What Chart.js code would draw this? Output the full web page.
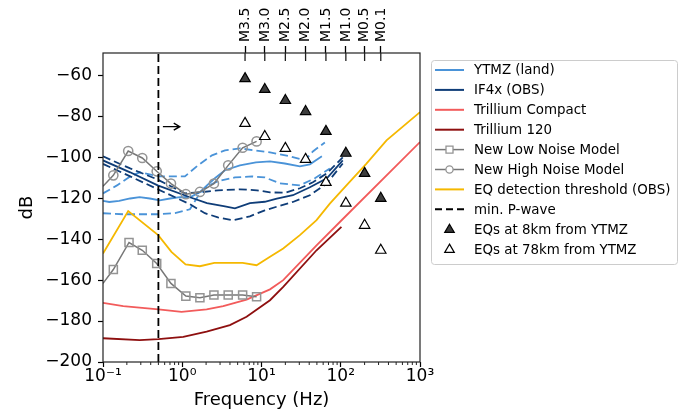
<!DOCTYPE html>
<html>
<head>
<meta charset="utf-8">
<script src="https://cdn.jsdelivr.net/npm/chart.js@4.4.1/dist/chart.umd.min.js"></script>
<style>
  html, body { margin: 0; padding: 0; background: #fff; }
</style>
</head>
<body>
<canvas id="chart" width="684" height="416"></canvas>
<script>
// axis ticks
const xTickVals = [0.1, 1, 10, 100, 1000]
const xTickLabels = ['10\u207b\u00b9', '10\u2070', '10\u00b9', '10\u00b2', '10\u00b3']
const yTickVals = [-200, -180, -160, -140, -120, -100, -80, -60]
// top axis: magnitude at corner frequency
const magFreqs = [6.2, 11, 20, 36, 65, 116, 200, 320]
const magLabels = ['M3.5', 'M3.0', 'M2.5', 'M2.0', 'M1.5', 'M1.0', 'M0.5', 'M0.1']
// earthquakes (dB at magFreqs)
const eq8km = [-61.5, -66.8, -72.2, -77.6, -87.3, -98, -107.8, -120]
const eq78km = [-83.4, -89.8, -95.6, -101, -112.2, -122.4, -133.2, -145.4]

// YTMZ (land) median + percentiles
const ytmzFreq = [0.1, 0.12, 0.16, 0.22, 0.29, 0.39, 0.52, 0.7, 0.94, 1.25, 1.67, 2.05, 2.58, 3.46, 5.34, 8.5, 12.8, 19.7, 30.5, 40.8, 57.8]
const ytmzMed = [-121.3, -121.8, -121.3, -120.1, -119.4, -120.1, -121, -120.1, -119.4, -119.5, -117, -113.7, -110.2, -106.3, -103.9, -102.4, -102, -103, -104.4, -103.4, -99.5]
const ytmzHiFreq = [0.1, 0.15, 0.22, 0.29, 0.52, 1.08, 1.58, 2.37, 3.46, 5.34, 8.26, 12.8, 22.8, 35.3, 44.5, 63]
const ytmzHi = [-117.6, -113.7, -109.3, -107.3, -109.3, -109.3, -103.9, -99, -96.6, -95.6, -96.6, -97.6, -99.5, -101.5, -97.1, -92.7]
const ytmzLoFreq = [0.1, 0.18, 0.48, 0.81, 1.25, 1.58, 2.05, 2.82, 4.62, 7.57, 11, 17.1, 30.5, 47.1, 72.9]
const ytmzLo = [-127.3, -127.8, -127.8, -127.3, -125.4, -119, -114.1, -111.7, -109.8, -109.3, -109.8, -112.7, -113.7, -110.2, -105.4]

// IF4x (OBS) median + percentiles
const if4xFreq = [0.1, 0.22, 0.49, 1.25, 2.05, 3.46, 4.62, 7.14, 11, 15.6, 24.9, 40.8, 66.8, 106]
const if4xMed = [-101.5, -107.3, -113.7, -119.5, -122.4, -123.9, -124.9, -122.4, -121.7, -120.2, -118.5, -114.6, -110.2, -101.5]
const if4xHiFreq = [0.1, 0.22, 0.48, 1.08, 1.67, 2.82, 5.34, 8.75, 12.8, 19.7, 30.5, 44.5, 66.8, 106]
const if4xHi = [-99.5, -105.4, -110.7, -117.6, -117.1, -116.1, -115.6, -116.1, -117.1, -117.3, -115.1, -112.2, -107.8, -100]
const if4xLoFreq = [0.1, 0.22, 0.48, 1.25, 1.93, 2.82, 4.36, 7.14, 11, 15.6, 24.9, 40.8, 66.8, 106]
const if4xLo = [-103.2, -109.3, -115.4, -122.9, -127.3, -129.3, -130.7, -128.8, -125.9, -124.1, -121.8, -118.5, -112.7, -103]

// instrument self noise
const compactFreq = [0.1, 0.18, 0.5, 0.98, 2.03, 3.29, 6.48, 12.8, 18.8, 49.5, 107, 1000]
const compactDb = [-171.1, -172.7, -174.3, -175.5, -174.3, -172.7, -169.5, -164.5, -160, -143, -130, -92.5]
const t120Freq = [0.1, 0.29, 0.5, 1.03, 2.03, 3.99, 6.48, 12.8, 18.8, 49.5, 102]
const t120Db = [-188.4, -189.3, -188.8, -187.7, -185.2, -182, -177.9, -169.8, -163.3, -145.4, -134]

// Peterson noise models
const nlnmFreq = [0.1, 0.135, 0.213, 0.313, 0.476, 0.72, 1.11, 1.67, 2.51, 3.8, 5.78, 8.67]
const nlnmDb = [-161.6, -154.8, -141.6, -145.4, -151.9, -161.6, -167.8, -168.6, -167.3, -167.3, -167.3, -168.1]
const nhnmFreq = [0.1, 0.135, 0.208, 0.313, 0.476, 0.72, 1.11, 1.67, 2.51, 3.8, 5.78, 8.67]
const nhnmDb = [-114.1, -108.8, -96.9, -100.3, -106.8, -112.8, -118, -116.9, -112.8, -103.9, -95.3, -92.2]

// EQ detection threshold (OBS)
const threshFreq = [0.1, 0.208, 0.497, 0.73, 1.1, 1.67, 2.54, 5.78, 8.67, 12.8, 18.8, 30.5, 49.5, 72.8, 118, 211, 378, 1000]
const threshDb = [-147, -126.2, -138, -146.2, -152.3, -153.2, -151.6, -151.6, -152.7, -148.6, -144.5, -138, -130.7, -122.6, -113.7, -103.1, -91.7, -77.9]

// min. P-wave frequency and arrow
const pWaveFreq = 0.5
const arrowFreqs = [0.57, 0.93]
const arrowDb = -85

const yMin = -200, yMax = -49

const pts = (xs, ys) => xs.map((x, i) => ({x: x, y: ys[i]}))

const cLand = '#4a93d8'
const cObs = '#0f3d78'
const cCompact = '#f25b5b'
const cT120 = '#8e0f0f'
const cGray = '#777777'
const cThresh = '#f5b800'

function line(data, color, width, dash) {
  return { data: data, showLine: true, borderColor: color, borderWidth: width, borderDash: dash || [],
    pointRadius: 0, fill: false, tension: 0 }
}

// in matplotlib plotting order (later on top)
const layers = [
  line(pts(ytmzFreq, ytmzMed), cLand, 1.8),
  line(pts(ytmzHiFreq, ytmzHi), cLand, 1.8, [8, 4]),
  line(pts(ytmzLoFreq, ytmzLo), cLand, 1.8, [8, 4]),
  line(pts(if4xFreq, if4xMed), cObs, 1.8),
  line(pts(if4xHiFreq, if4xHi), cObs, 1.8, [8, 4]),
  line(pts(if4xLoFreq, if4xLo), cObs, 1.8, [8, 4]),
  line(pts(compactFreq, compactDb), cCompact, 1.8),
  line(pts(t120Freq, t120Db), cT120, 1.8),
  Object.assign(line(pts(nlnmFreq, nlnmDb), cGray, 1.5), {
    pointStyle: 'rect', pointRadius: c => c.dataIndex === 0 ? 0 : 5.7,
    pointBorderColor: '#949494', pointBackgroundColor: 'rgba(0,0,0,0)', pointBorderWidth: 1.5 }),
  Object.assign(line(pts(nhnmFreq, nhnmDb), cGray, 1.5), {
    pointStyle: 'circle', pointRadius: c => c.dataIndex === 0 ? 0 : 4.6,
    pointBorderColor: '#949494', pointBackgroundColor: 'rgba(0,0,0,0)', pointBorderWidth: 1.5 }),
  line(pts(threshFreq, threshDb), cThresh, 1.8),
  line(pts([pWaveFreq, pWaveFreq], [yMin, yMax]), '#000', 1.8, [8, 4]),
  { data: pts(magFreqs, eq8km), showLine: false, pointStyle: 'triangle', pointRadius: 6,
    pointBackgroundColor: '#3d3d3d', pointBorderColor: '#000', pointBorderWidth: 1.2 },
  { data: pts(magFreqs, eq78km), showLine: false, pointStyle: 'triangle', pointRadius: 6,
    pointBackgroundColor: '#fff', pointBorderColor: '#000', pointBorderWidth: 1.2 }
]

const legendRows = [
  {label: 'YTMZ (land)', color: cLand},
  {label: 'IF4x (OBS)', color: cObs},
  {label: 'Trillium Compact', color: cCompact},
  {label: 'Trillium 120', color: cT120},
  {label: 'New Low Noise Model', color: cGray, marker: 'rect'},
  {label: 'New High Noise Model', color: cGray, marker: 'circle'},
  {label: 'EQ detection threshold (OBS)', color: cThresh},
  {label: 'min. P-wave', color: '#000', dash: [7, 4]},
  {label: 'EQs at 8km from YTMZ', tri: '#3d3d3d'},
  {label: 'EQs at 78km from YTMZ', tri: '#fff'}
]

function tri(ctx, cx, cy, r, fillc) {
  ctx.beginPath()
  ctx.moveTo(cx, cy - r)
  ctx.lineTo(cx + r * 0.866, cy + r / 2)
  ctx.lineTo(cx - r * 0.866, cy + r / 2)
  ctx.closePath()
  ctx.fillStyle = fillc
  ctx.fill()
  ctx.lineWidth = 1.2
  ctx.strokeStyle = '#000'
  ctx.stroke()
}

const extras = {
  id: 'extras',
  afterDatasetsDraw(chart) {
    const {ctx, chartArea: a, scales} = chart
    const x = scales.x, y = scales.y
    ctx.save()
    // arrow
    const ax0 = x.getPixelForValue(arrowFreqs[0]), ax1 = x.getPixelForValue(arrowFreqs[1])
    const ay = y.getPixelForValue(arrowDb)
    ctx.strokeStyle = '#000'
    ctx.lineWidth = 1.4
    ctx.beginPath()
    ctx.moveTo(ax0, ay); ctx.lineTo(ax1, ay)
    ctx.moveTo(ax1 - 6, ay - 3.5); ctx.lineTo(ax1, ay); ctx.lineTo(ax1 - 6, ay + 3.5)
    ctx.stroke()
    // frame
    ctx.lineWidth = 1.2
    ctx.strokeStyle = '#222'
    ctx.strokeRect(a.left, a.top, a.right - a.left, a.bottom - a.top)
    // minor log ticks, and inner half of the top ticks
    ctx.lineWidth = 1
    ctx.beginPath()
    for (let d = -1; d < 3; d++) {
      for (let m = 2; m < 10; m++) {
        const px = x.getPixelForValue(m * Math.pow(10, d))
        ctx.moveTo(px, a.bottom); ctx.lineTo(px, a.bottom + 3)
      }
    }
    ctx.stroke()
    ctx.lineWidth = 1.3
    ctx.beginPath()
    magFreqs.forEach(f => {
      const px = x.getPixelForValue(f)
      ctx.moveTo(px, a.top); ctx.lineTo(px, a.top + 8)
    })
    ctx.stroke()
    ctx.restore()
  },
  afterDraw(chart) {
    const ctx = chart.ctx
    const bx = 431, by = 60, bw = 246, bh = 204, row0 = 70, rowH = 19.9
    ctx.save()
    ctx.fillStyle = '#fff'
    ctx.strokeStyle = '#cccccc'
    ctx.lineWidth = 1
    ctx.beginPath()
    ctx.roundRect(bx + 0.5, by + 0.5, bw, bh, 3)
    ctx.fill()
    ctx.stroke()
    legendRows.forEach((r, i) => {
      const ry = row0 + i * rowH
      if (r.tri) {
        tri(ctx, 449.5, ry + 0.5, 5.5, r.tri)
      } else {
        ctx.strokeStyle = r.color
        ctx.lineWidth = r.marker ? 1.5 : 2
        ctx.setLineDash(r.dash || [])
        ctx.beginPath()
        ctx.moveTo(435, ry); ctx.lineTo(464, ry)
        ctx.stroke()
        ctx.setLineDash([])
        if (r.marker) {
          ctx.strokeStyle = '#949494'
          ctx.fillStyle = '#fff'
          ctx.lineWidth = 1.3
          ctx.beginPath()
          if (r.marker === 'rect') ctx.rect(446, ry - 3.5, 7, 7)
          else ctx.arc(449.5, ry, 3.6, 0, Math.PI * 2)
          ctx.fill()
          ctx.stroke()
        }
      }
      ctx.fillStyle = '#000'
      ctx.font = '13.4px "DejaVu Sans"'
      ctx.textBaseline = 'middle'
      ctx.textAlign = 'left'
      ctx.fillText(r.label, 474, ry + 1)
    })
    ctx.restore()
  }
}

Chart.defaults.font.family = '"DejaVu Sans", sans-serif'
Chart.defaults.color = '#000'

const tickFont = {size: 17, lineHeight: 1}

new Chart(document.getElementById('chart'), {
  type: 'scatter',
  data: { datasets: layers.slice().reverse() },
  options: {
    responsive: false,
    animation: false,
    events: [],
    layout: { padding: {left: 0, right: 264, top: 0, bottom: 0} },
    plugins: { legend: {display: false}, tooltip: {enabled: false} },
    scales: {
      x: {
        type: 'logarithmic', position: 'bottom', min: 0.1, max: 1000,
        afterBuildTicks: s => { s.ticks = xTickVals.map(v => ({value: v})) },
        afterFit: s => { s.height = 54 },
        ticks: { autoSkip: false, maxRotation: 0, font: tickFont, padding: 1,
          callback: (v, i) => xTickLabels[i] },
        grid: { drawOnChartArea: false, tickLength: 5, tickColor: '#000', tickWidth: 1.2 },
        border: { display: false },
        title: { display: true, text: 'Frequency (Hz)', font: {size: 18}, padding: {top: 0, bottom: 5} }
      },
      x2: {
        type: 'logarithmic', position: 'top', min: 0.1, max: 1000,
        afterBuildTicks: s => { s.ticks = magFreqs.map(v => ({value: v})) },
        afterFit: s => { s.height = 53 },
        ticks: { autoSkip: false, minRotation: 90, maxRotation: 90, font: {size: 14, lineHeight: 1.2},
          padding: 4, labelOffset: 17, callback: (v, i) => magLabels[i] },
        grid: { drawOnChartArea: false, tickLength: 7, tickColor: '#000', tickWidth: 1.3 },
        border: { display: false }
      },
      y: {
        type: 'linear', min: yMin, max: yMax,
        afterBuildTicks: s => { s.ticks = yTickVals.map(v => ({value: v})) },
        afterFit: s => { s.width = 103 },
        ticks: { font: tickFont, padding: 6, callback: v => String(v).replace('-', '\u2212') },
        grid: { drawOnChartArea: false, tickLength: 5, tickColor: '#000', tickWidth: 1.2 },
        border: { display: false },
        title: { display: true, text: 'dB', font: {size: 18}, padding: {top: 17, bottom: 0} }
      }
    }
  },
  plugins: [extras]
})
</script>
</body>
</html>
